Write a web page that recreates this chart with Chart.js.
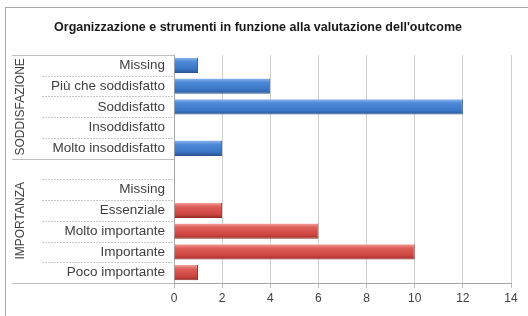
<!DOCTYPE html>
<html><head><meta charset="utf-8">
<script src="https://cdn.jsdelivr.net/npm/chart.js@4.4.1/dist/chart.umd.min.js"></script>
<style>html,body{margin:0;padding:0;background:#fff}#wrap{width:528px;height:316px}</style>
</head><body><div id="wrap"><canvas id="c" width="528" height="316"></canvas></div>
<script>
const categories = ['Missing','Più che soddisfatto','Soddisfatto','Insoddisfatto','Molto insoddisfatto','','Missing','Essenziale','Molto importante','Importante','Poco importante'];
const values = [1,4,12,0,2,null,0,2,6,10,1];
const groupNames = ['SODDISFAZIONE','IMPORTANZA'];
const groupSizes = [5,6];
const xTicks = [0,2,4,6,8,10,12,14];

const BAR_PCT = 0.74;
function grad(ctx, blue){
  const chart = ctx.chart, ys = chart.scales.y;
  if(!ys || !chart.chartArea) return blue ? '#4a7ebb' : '#c0504d';
  const c = ys.getPixelForValue(ctx.dataIndex);
  const h = ys.height/categories.length*BAR_PCT/2;
  const g = chart.ctx.createLinearGradient(0,c-h,0,c+h);
  if(blue){g.addColorStop(0,'#8db6ee');g.addColorStop(0.25,'#4f8ad9');g.addColorStop(0.75,'#3a74c4');g.addColorStop(1,'#28538f');}
  else{g.addColorStop(0,'#f3a09c');g.addColorStop(0.25,'#de5e59');g.addColorStop(0.75,'#cc4440');g.addColorStop(1,'#962a27');}
  return g;
}
const isBlue = i => i < groupSizes[0];

const decor = {
  id:'decor',
  beforeDraw(chart){
    const c = chart.ctx;
    c.save();
    c.fillStyle='#fff';c.fillRect(0,0,chart.width,chart.height);
    c.strokeStyle='#a6a6a6';c.lineWidth=1;
    c.strokeRect(5.5,7.5,600,400);
    c.restore();
  },
  afterDraw(chart){
    const c = chart.ctx, ys = chart.scales.y, ca = chart.chartArea;
    const n = categories.length, step = ys.height/n;
    c.save();
    let b = 0; const bounds=[0];
    groupSizes.forEach(s=>{b+=s;bounds.push(b);});
    for(let k=0;k<=n;k++){
      const y = Math.round(ys.top + k*step)+0.5;
      if(bounds.includes(k)){
        c.strokeStyle='#bfbfbf';c.setLineDash([]);
        c.beginPath();c.moveTo(12,y);c.lineTo(ca.left,y);c.stroke();
      } else {
        c.strokeStyle='#c8c8c8';c.setLineDash([2,1]);
        c.beginPath();c.moveTo(42,y);c.lineTo(ca.left,y);c.stroke();
      }
    }
    c.setLineDash([]);
    c.fillStyle='#404040';c.font='12px "Liberation Sans", Arial, sans-serif';
    c.textAlign='center';c.textBaseline='middle';
    let start=0;
    groupNames.forEach((g,i)=>{
      const y0 = ys.top+start*step, y1 = ys.top+(start+groupSizes[i])*step;
      c.save();c.translate(21,(y0+y1)/2);c.rotate(-Math.PI/2);c.fillText(g,0,0);c.restore();
      start+=groupSizes[i];
    });
    c.restore();
  }
};

new Chart(document.getElementById('c'),{
  type:'bar',
  data:{labels:categories,datasets:[{data:values,
    backgroundColor:ctx=>grad(ctx,isBlue(ctx.dataIndex)),
    borderColor:ctx=>isBlue(ctx.dataIndex)?'#2b5590':'#8e2b28',
    borderWidth:{top:0,bottom:1,left:0,right:1},borderSkipped:'left',
    barPercentage:BAR_PCT,categoryPercentage:1}]},
  options:{
    indexAxis:'y',responsive:false,animation:false,
    layout:{padding:{left:5,right:17,top:0,bottom:0}},
    plugins:{legend:{display:false},tooltip:{enabled:false},
      title:{display:true,text:"Organizzazione e strumenti in funzione alla valutazione dell'outcome",
        color:'#1a1a1a',font:{family:'"Liberation Sans", Arial, sans-serif',size:12.5,weight:'bold'},padding:{top:20,bottom:20}}},
    scales:{
      x:{min:0,max:14,afterBuildTicks:s=>{s.ticks=xTicks.map(v=>({value:v}));},
        afterFit:s=>{s.height=33;},
        grid:{color:'#cfcfcf',drawTicks:true,tickLength:5,tickColor:'#bdbdbd'},
        border:{color:'#a6a6a6'},
        ticks:{color:'#404040',padding:3,font:{family:'"Liberation Sans", Arial, sans-serif',size:12}}},
      y:{afterFit:s=>{s.width=169;},
        grid:{display:false,drawTicks:false},
        border:{color:'#a6a6a6'},
        ticks:{color:'#404040',padding:9,autoSkip:false,font:{family:'"Liberation Sans", Arial, sans-serif',size:13.5}}}
    }
  },
  plugins:[decor]
});
</script></body></html>
